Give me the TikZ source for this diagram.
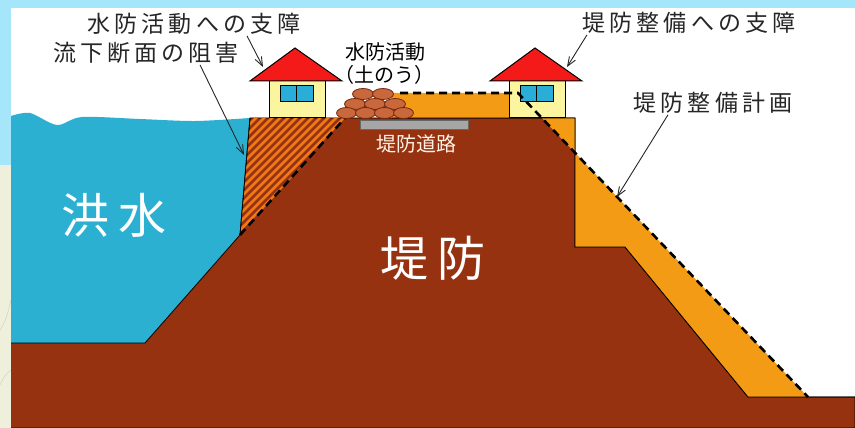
\documentclass[tikz,border=0pt]{standalone}
\usepackage{fontspec}
\newfontfamily\jp{Noto Sans CJK JP}
\newfontfamily\jpw[LetterSpace=18]{Noto Sans CJK JP}
\usetikzlibrary{arrows.meta}
\definecolor{mizu}{HTML}{2BB0D2}
\definecolor{tsuchi}{HTML}{963210}
\definecolor{keikaku}{HTML}{F39B14}
\definecolor{shima}{HTML}{F07A1A}
\definecolor{yane}{HTML}{F51A1A}
\definecolor{kabe}{HTML}{FBF5A0}
\definecolor{mado}{HTML}{2AAED8}
\definecolor{dohyo}{HTML}{C8683C}
\definecolor{sora}{HTML}{A5E6FA}
\definecolor{chizu}{HTML}{EEF0DC}
\begin{document}
\begin{tikzpicture}[x=1pt,y=-1pt,
	lbl/.style={font=\jpw\fontsize{23}{23}\selectfont,text=black!85,inner sep=1pt},
	small/.style={font=\jp\fontsize{20}{20}\selectfont,inner sep=1pt},
	big/.style={font=\jpw\fontsize{48}{48}\selectfont,text=white,inner sep=1pt},
	plan/.style={dash pattern=on 8pt off 5pt,line width=2.6pt},
	callout/.style={-{Straight Barb[length=9pt,width=7pt]},line width=0.9pt,black!85},
	bag/.style={fill=dohyo,draw=tsuchi!80!black,line width=0.8pt}]
	\useasboundingbox (0,0) rectangle (855,428);
	%slide frame
	\fill[white] (0,0) rectangle (855,428);
	\fill[sora] (0,0) rectangle (855,8);
	\fill[sora] (0,0) rectangle (11,165);
	\fill[chizu] (0,165) rectangle (11,428);
	\draw[gray!40] (0,330) .. controls (6,320) .. (11,300);
	\draw[gray!40] (0,385) .. controls (5,375) .. (11,370);
	
	%FLOOD
	\fill[mizu] plot[smooth] coordinates {(11,116) (30,113) (57,125) (82,117) (140,119) (195,121) (250,118)}
		-- (240,235) -- (145,343) -- (11,343) -- cycle;
	
	%LEVEE
	\draw[fill=tsuchi,line width=0.8pt] (11,343) -- (145,343) -- (240,235) -- (250,118) -- (575,118) -- (575,247)
		-- (625,247) -- (748,397) -- (855,397) -- (855,428) -- (11,428);
	\begin{scope}
		\clip (250,118) -- (345,118) -- (240,235) -- cycle;
		\foreach \k in {100,108,...,340}
			\draw[shima,line width=2.5pt] (\k,250) -- ++(140,-140);
	\end{scope}
	\draw[line width=0.8pt] (250,118) -- (240,235);
	\fill[keikaku] (392,93) -- (518,93) -- (808,397) -- (748,397) -- (625,247) -- (575,247) -- (575,118) -- (392,118) -- cycle;
	\draw[line width=0.8pt] (392,118) -- (575,118) -- (575,247) -- (625,247) -- (748,397) -- (855,397);
	\draw[fill=gray!70,draw=black!60,line width=0.6pt] (360,120) rectangle (468,129);
	
	%HOUSES
	\foreach \hx in {0,240}{
		\begin{scope}[xshift=\hx]
			\draw[fill=kabe,line width=1pt] (269,81) rectangle (325,118);
			\draw[fill=mado,line width=1pt] (280,86) rectangle (313,102);
			\draw[line width=1pt] (296.5,86) -- (296.5,102);
			\draw[fill=yane,line width=1pt] (250,81) -- (295,48) -- (342,81) -- cycle;
		\end{scope}
	}
	
	%planned section
	\draw[plan] (240,235) -- (345,118);
	\draw[plan] (400,93) -- (518,93) -- (808,397);
	
	%sandbags
	\foreach \bx in {363,383} \draw[bag] (\bx,94) ellipse [x radius=10.5,y radius=5.5];
	\foreach \bx in {355,375,395} \draw[bag] (\bx,104) ellipse [x radius=10.5,y radius=5.5];
	\foreach \bx in {346.5,365.5,384.5,403.5} \draw[bag] (\bx,113) ellipse [x radius=10,y radius=5.5];
	
	%labels
	\node[lbl] (suibou) at (194,24) {水防活動への支障};
	\node[lbl] (ryuka) at (146,53) {流下断面の阻害};
	\node[lbl] (seibi) at (689,23) {堤防整備への支障};
	\node[lbl] (keikakuL) at (713,103) {堤防整備計画};
	\node[small] (katsudo) at (385,52) {水防活動};
	\node[small] (donou) at (384,75) {（土のう）};
	\node[small,text=orange!10] (douro) at (416,144) {堤防道路};
	\node[big] (kouzui) at (114,215) {洪水};
	\node[big] (teibou) at (433,258) {堤防};
	
	\coordinate (yaneL) at (263,67);
	\coordinate (danmen) at (244,155);
	\coordinate (yaneR) at (567,67);
	\coordinate (hoho) at (617,197);
	\draw[callout] ([xshift=53]suibou.south) -- (yaneL);
	\draw[callout] ([xshift=54]ryuka.south) -- (danmen);
	\draw[callout] ([xshift=-102]seibi.south) -- (yaneR);
	\draw[callout] ([xshift=-45]keikakuL.south) -- (hoho);
\end{tikzpicture}
\end{document}
